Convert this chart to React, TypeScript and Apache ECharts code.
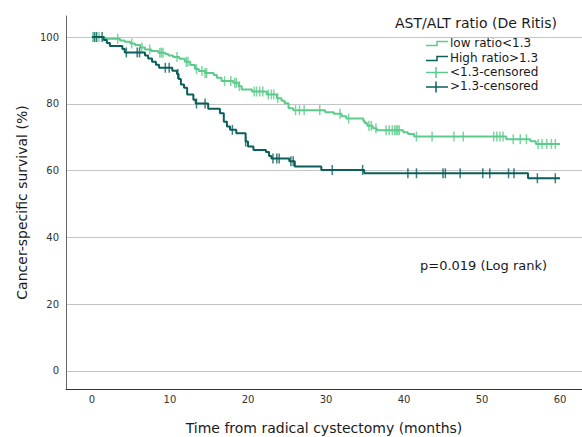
import React, { useEffect, useRef } from "react";
import * as echarts from "echarts";

// ---- data ----
const xTickValues = [0, 10, 20, 30, 40, 50, 60];
const yTickValues = [0, 20, 40, 60, 80, 100];

// Kaplan-Meier steps: [time (months), survival (%) after the drop]
const lowRatioSteps: [number, number][] = [
  [0, 100], [1.6, 99.5], [3.6, 99.0], [4.2, 98.6], [4.9, 98.1], [5.5, 97.6],
  [6.2, 96.9], [6.8, 96.3], [7.6, 95.8], [8.5, 95.3], [9.4, 94.9], [9.8, 94.5],
  [10.4, 94.0], [11.2, 93.5], [11.9, 92.6], [12.6, 91.6], [13.2, 90.4], [13.7, 89.8],
  [14.5, 89.2], [15.6, 88.6], [16.0, 87.8], [16.6, 86.8], [18.1, 86.3], [18.8, 85.3],
  [19.2, 84.3], [20.5, 83.7], [22.4, 82.8], [23.7, 81.7], [24.3, 80.9], [24.7, 80.2],
  [25.2, 78.7], [25.8, 78.1], [29.9, 77.5], [31.0, 77.0], [32.0, 76.3], [32.6, 75.6],
  [34.8, 74.8], [35.0, 74.2], [35.3, 73.4], [36.0, 72.7], [36.5, 72.1], [39.9, 71.5],
  [40.5, 71.0], [41.3, 70.2], [53.1, 69.4], [56.2, 68.8], [56.9, 68.0], [60.0, 68.0],
];

const highRatioSteps: [number, number][] = [
  [0, 100], [1.5, 99.1], [1.9, 98.2], [2.3, 97.3], [3.9, 96.4], [4.2, 95.4],
  [6.8, 94.5], [7.2, 93.6], [7.7, 92.6], [8.2, 91.7], [8.6, 90.8], [10.3, 89.9],
  [10.9, 88.9], [11.1, 87.4], [11.4, 85.8], [11.8, 84.8], [12.2, 82.8], [13.0, 81.2],
  [13.3, 80.1], [14.9, 78.5], [16.4, 77.2], [16.9, 74.6], [17.3, 73.2], [17.7, 72.2],
  [18.5, 71.2], [19.7, 68.7], [20.0, 67.2], [20.7, 66.2], [22.3, 65.6], [22.7, 64.4],
  [23.0, 63.6], [25.3, 62.8], [26.0, 61.2], [29.4, 60.2], [34.9, 59.2], [55.9, 57.7],
  [60.0, 57.7],
];

// censoring times (months)
const lowRatioCensored = [
  0.1, 0.5, 0.9, 3.3, 5.1, 6.4, 7.4, 8.7, 8.9, 9.1, 10.9, 12.1, 12.3, 13.4, 14.1,
  14.5, 14.7, 17.0, 17.8, 18.3, 18.5, 18.9, 20.8, 21.1, 21.5, 21.9, 22.6, 23.0,
  23.3, 23.8, 26.1, 26.6, 27.2, 29.2, 31.8, 32.9, 35.5, 35.8, 36.4, 37.7, 38.1,
  38.5, 38.8, 39.0, 39.2, 39.4, 41.6, 43.6, 46.4, 47.6, 51.5, 51.9, 52.3, 52.7,
  54.0, 54.9, 55.7, 57.2, 57.7, 58.3, 58.9, 59.4,
];
const highRatioCensored = [
  0.3, 0.6, 1.3, 4.4, 5.8, 6.1, 9.4, 9.9, 11.0, 13.4, 14.5, 18.0, 19.7, 23.2,
  23.7, 24.0, 25.5, 25.8, 30.8, 34.7, 40.5, 41.6, 45.0, 45.3, 47.2, 50.1, 51.0,
  53.4, 54.1, 57.1, 59.4,
];

const seriesNames = ["low ratio<1.3", "High ratio>1.3", "<1.3-censored", ">1.3-censored"];
const legendTitle = "AST/ALT ratio (De Ritis)";
const pValueText = "p=0.019 (Log rank)";
const xAxisTitle = "Time from radical cystectomy (months)";
const yAxisTitle = "Cancer-specific survival (%)";

const LIGHT = "#5ccb8b";
const DARK = "#0b5e5c";
const FONT = "'DejaVu Sans', 'Liberation Sans', Arial, sans-serif";

function survivalAt(steps: [number, number][], t: number): number {
  let v = steps[0][1];
  for (const [st, sv] of steps) {
    if (st <= t) v = sv;
    else break;
  }
  return v;
}

export default function App() {
  const ref = useRef<HTMLDivElement>(null);

  useEffect(() => {
    if (!ref.current) return;
    const chart = echarts.init(ref.current, undefined, { renderer: "svg" });

    const legendX0 = 426;
    const legendX1 = 448;
    const rowY = [43.5, 58.5, 72.5, 87];

    const graphic: any[] = [
      {
        type: "text",
        left: 395,
        top: 16,
        style: { text: legendTitle, font: `14px ${FONT}`, fill: "#1a1a1a" },
      },
      {
        type: "text",
        left: 420,
        top: 259,
        style: { text: pValueText, font: `13px ${FONT}`, fill: "#1a1a1a" },
      },
    ];
    // step icons
    [LIGHT, DARK].forEach((c, i) => {
      const y = rowY[i];
      graphic.push({
        type: "polyline",
        shape: {
          points: [
            [legendX0, y + 2],
            [437, y + 2],
            [437, y - 2],
            [legendX1, y - 2],
          ],
        },
        style: { stroke: c, lineWidth: 1.5, fill: null },
      });
    });
    // cross icons
    [LIGHT, DARK].forEach((c, i) => {
      const y = rowY[i + 2];
      graphic.push({
        type: "line",
        shape: { x1: legendX0, y1: y, x2: legendX1, y2: y },
        style: { stroke: c, lineWidth: 1.5 },
      });
      graphic.push({
        type: "line",
        shape: { x1: 436, y1: y - 5.5, x2: 436, y2: y + 5.5 },
        style: { stroke: c, lineWidth: 1.5 },
      });
    });
    seriesNames.forEach((n, i) => {
      graphic.push({
        type: "text",
        left: 450,
        top: rowY[i] - 7,
        style: { text: n, font: `12px ${FONT}`, fill: "#1a1a1a" },
      });
    });

    chart.setOption({
      animation: false,
      backgroundColor: "#ffffff",
      grid: {
        left: 66,
        right: 0,
        top: 16,
        bottom: 48,
        containLabel: false,
        outerBoundsMode: "none",
      },
      xAxis: {
        type: "value",
        min: -3.33,
        max: 62.82,
        name: xAxisTitle,
        nameLocation: "middle",
        nameGap: 32,
        nameTextStyle: { fontFamily: FONT, fontSize: 14, color: "#1a1a1a" },
        axisLine: { show: true, onZero: false, lineStyle: { color: "#333", width: 1 } },
        axisTick: { show: false, customValues: xTickValues },
        axisLabel: {
          customValues: xTickValues,
          fontFamily: FONT,
          fontSize: 10,
          color: "#333",
          margin: 5,
        },
        splitLine: { show: false },
      },
      yAxis: {
        type: "value",
        min: -5.4,
        max: 106.3,
        name: yAxisTitle,
        nameLocation: "middle",
        nameGap: 36,
        nameTextStyle: { fontFamily: FONT, fontSize: 14, color: "#1a1a1a" },
        axisLine: { show: true, onZero: false, lineStyle: { color: "#666", width: 1 } },
        axisTick: { show: false, customValues: yTickValues },
        axisLabel: {
          customValues: yTickValues,
          fontFamily: FONT,
          fontSize: 10,
          color: "#333",
          margin: 7,
        },
        splitLine: { show: true, lineStyle: { color: "#c4c4c4", width: 1 } },
      },
      graphic,
      series: [
        {
          name: seriesNames[0],
          type: "line",
          step: "end",
          showSymbol: false,
          data: lowRatioSteps,
          lineStyle: { color: LIGHT, width: 2 },
          itemStyle: { color: LIGHT },
          z: 2,
        },
        {
          name: seriesNames[2],
          type: "scatter",
          symbol: "rect",
          symbolSize: [1.5, 10],
          data: lowRatioCensored.map((t) => [t, survivalAt(lowRatioSteps, t)]),
          itemStyle: { color: LIGHT },
          z: 3,
        },
        {
          name: seriesNames[1],
          type: "line",
          step: "end",
          showSymbol: false,
          data: highRatioSteps,
          lineStyle: { color: DARK, width: 2 },
          itemStyle: { color: DARK },
          z: 4,
        },
        {
          name: seriesNames[3],
          type: "scatter",
          symbol: "rect",
          symbolSize: [1.5, 10],
          data: highRatioCensored.map((t) => [t, survivalAt(highRatioSteps, t)]),
          itemStyle: { color: DARK },
          z: 5,
        },
      ],
    });

    return () => chart.dispose();
  }, []);

  return (
    <div
      ref={ref}
      style={{ position: "fixed", left: 0, top: 0, width: 582, height: 437 }}
    />
  );
}
